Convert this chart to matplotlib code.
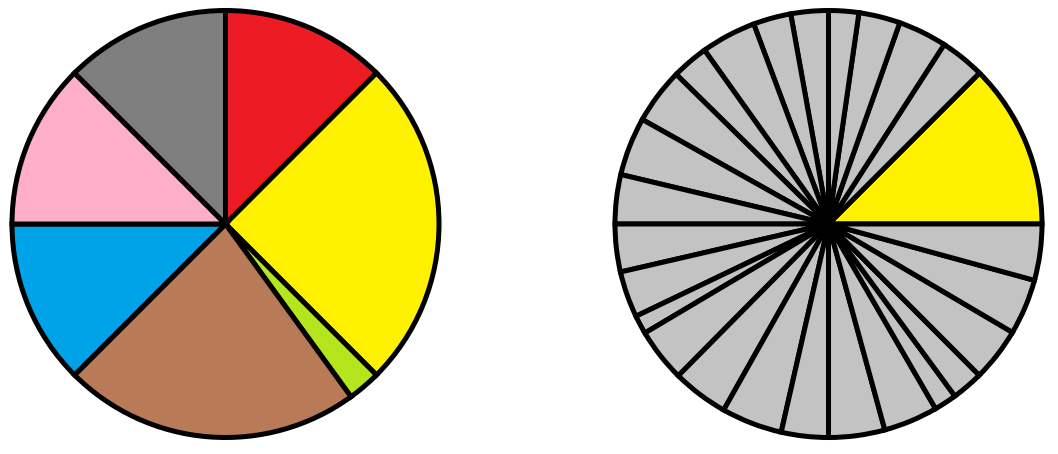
import matplotlib
matplotlib.use("Agg")
import matplotlib.pyplot as plt

# left pie: slice sizes in degrees, clockwise from 12 o'clock
left_sizes  = [45, 90, 9, 81, 45, 45, 45]
left_colors = ["#ED1C24", "#FFF200", "#B5E61D", "#B97A57",
               "#00A2E8", "#FFAEC9", "#7F7F7F"]

# right pie: slice sizes in degrees, counter-clockwise from 3 o'clock
right_sizes = [45, 12.2, 13.3, 11.3, 8.2, 10.2, 10.3, 15, 10, 15.2, 15.9,
               13.4, 13, 12.6, 5.1, 14.6, 15.3, 16.6, 12.8, 15.3, 14.8,
               6.2, 8.6, 14.6, 15.2, 15.3]
right_colors = ["#FFF200"] + ["#C3C3C3"] * (len(right_sizes) - 1)

W, H = 1058, 454
fig = plt.figure(figsize=(W / 100, H / 100), dpi=100)

outer = 216      # px, outer edge of the border
r_line = 213.5   # px, centre of the border stroke
lim = outer / r_line
wedge = {"edgecolor": "black", "linewidth": 3.6, "joinstyle": "miter"}


def pie_axes(cx, cy):
    return fig.add_axes([(cx - outer) / W, (H - cy - outer) / H,
                         2 * outer / W, 2 * outer / H])


ax1 = pie_axes(225.5, 224)
ax1.pie(left_sizes, colors=left_colors, startangle=90, counterclock=False,
        wedgeprops=wedge)
ax1.set_xlim(-lim, lim)
ax1.set_ylim(-lim, lim)

ax2 = pie_axes(828.5, 224)
ax2.pie(right_sizes, colors=right_colors, startangle=0, counterclock=True,
        wedgeprops=wedge)
ax2.set_xlim(-lim, lim)
ax2.set_ylim(-lim, lim)

fig.savefig("out.png", dpi=100)
